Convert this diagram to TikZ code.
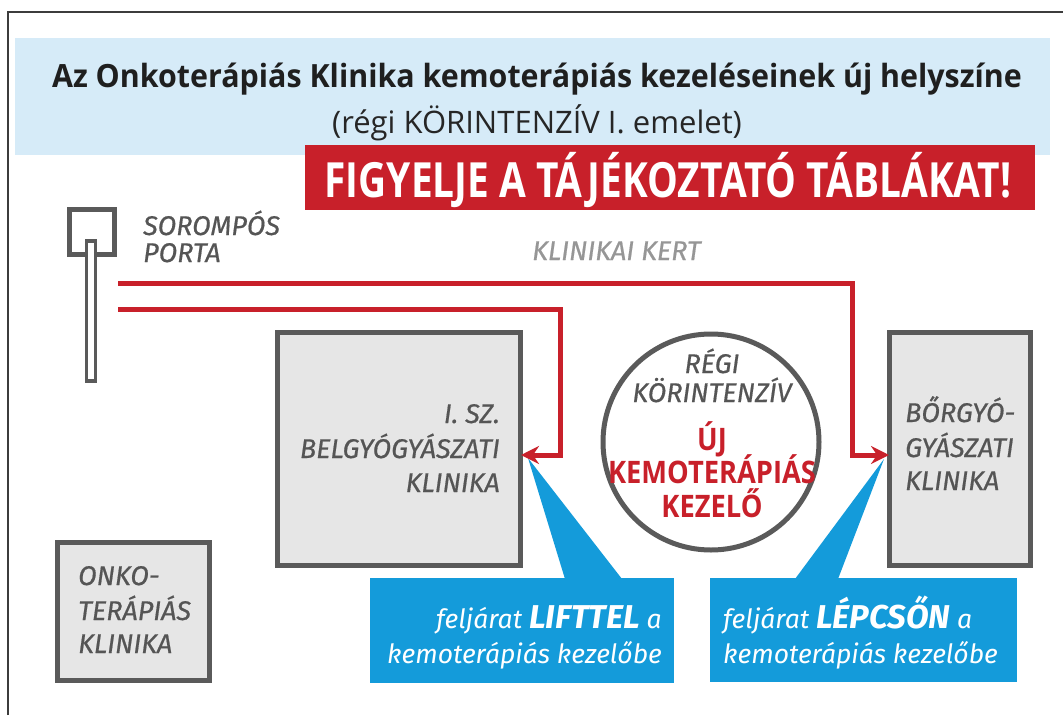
\documentclass[tikz,border=0pt]{standalone}
\usepackage{fontspec}
\usetikzlibrary{arrows.meta}
\setmainfont{Open Sans}
\newfontfamily\cond[FakeStretch=0.80]{Open Sans}
\newfontfamily\titlef[FakeStretch=0.95]{Open Sans}
\newfontfamily\condC[FakeStretch=0.88]{Open Sans}
\newfontfamily\lab[FakeBold=0.6]{Fira Sans}
\newfontfamily\labw{Fira Sans}
\definecolor{bandblue}{RGB}{214,235,248}
\definecolor{redc}{RGB}{200,32,42}
\definecolor{outl}{RGB}{90,90,90}
\definecolor{boxfill}{RGB}{230,230,230}
\definecolor{txtgray}{RGB}{85,85,85}
\definecolor{lightgray}{RGB}{150,150,150}
\definecolor{bluec}{RGB}{20,155,218}
\definecolor{framec}{RGB}{60,60,60}
\tikzset{
  bldg/.style={draw=outl, fill=boxfill, line width=5pt, inner sep=0, rectangle},
  lbl/.style={inner sep=0, text=txtgray, font=\lab\itshape\fontsize{27}{27}\selectfont},
  redtxt/.style={inner sep=0, text=redc, font=\condC\bfseries\fontsize{31}{31}\selectfont},
  bluetxt/.style={inner sep=0, text=white, font=\labw\itshape\fontsize{26.5}{26.5}\selectfont},
  route/.style={draw=redc, line width=5pt},
  routearrow/.style={route, -{Stealth[length=18pt,width=18pt,inset=6pt]}},
  callout/.style={fill=bluec, inner sep=0, rectangle}
}
\newcommand{\bigit}[1]{{\bfseries\fontsize{33}{33}\selectfont #1}}
\begin{document}
\begin{tikzpicture}[x=1pt,y=-1pt]
\useasboundingbox (0,0) rectangle (1063,715);
\fill[white] (0,0) rectangle (1063,715);
\draw[framec, line width=1.5pt] (8,715) -- (8,12) -- (1063,12);

% header band
\node[fill=bandblue, minimum width=1035pt, minimum height=117pt, inner sep=0, anchor=north west] (band) at (15,38) {};
\node[inner sep=0, anchor=base, font=\titlef\bfseries\fontsize{32}{32}\selectfont, text=black!88] (title) at (537,87) {Az Onkoterápiás Klinika kemoterápiás kezeléseinek új helyszíne};
\node[inner sep=0, anchor=base, font=\fontsize{31}{31}\selectfont, text=black!85] (subtitle) at (537,133) {(régi KÖRINTENZÍV I. emelet)};

% red banner
\node[fill=redc, minimum width=730pt, minimum height=65pt, inner sep=0, anchor=north west] (banner) at (305,145) {};
\node[inner sep=0, anchor=base, text=white, font=\cond\bfseries\fontsize{48.5}{48.5}\selectfont] (bannertxt) at (668,197) {FIGYELJE A TÁJÉKOZTATÓ TÁBLÁKAT!};

% gate
\node[draw=outl, line width=5pt, minimum width=45pt, minimum height=45pt, inner sep=0] (gate) at (92,232) {};
\node[draw=outl, fill=white, line width=3.5pt, minimum width=9pt, minimum height=140pt, inner sep=0] (post) at (91,311) {};
\node[lbl, anchor=base west] (sor1) at (143,235) {SOROMPÓS};
\node[lbl, anchor=base west] (sor2) at (143,262) {PORTA};
\node[lbl, text=lightgray, anchor=base west] (kert) at (532,260) {KLINIKAI KERT};

% buildings
\node[bldg, minimum width=243pt, minimum height=233pt] (belg) at (399,449) {};
\node[bldg, minimum width=141pt, minimum height=233pt] (borg) at (960,449) {};
\node[bldg, minimum width=152pt, minimum height=138pt] (onko) at (133.5,611.5) {};
\node[draw=outl, fill=white, line width=5pt, circle, minimum size=216pt, inner sep=0] (kor) at (711,442) {};

\node[lbl, anchor=base east] (b1) at (500,423) {I. SZ.};
\node[lbl, anchor=base east] (b2) at (500,458) {BELGYÓGYÁSZATI};
\node[lbl, anchor=base east] (b3) at (500,492) {KLINIKA};

\node[lbl, anchor=base west] (g1) at (905,422) {BŐRGYÓ-};
\node[lbl, anchor=base west] (g2) at (905,457) {GYÁSZATI};
\node[lbl, anchor=base west] (g3) at (905,490) {KLINIKA};

\node[lbl, anchor=base west] (o1) at (78,585) {ONKO-};
\node[lbl, anchor=base west] (o2) at (78,620) {TERÁPIÁS};
\node[lbl, anchor=base west] (o3) at (78,653) {KLINIKA};

\node[lbl, anchor=base] (k1) at (712,373) {RÉGI};
\node[lbl, anchor=base] (k2) at (712,402) {KÖRINTENZÍV};
\node[redtxt, anchor=base] (k3) at (712,450) {ÚJ};
\node[redtxt, anchor=base] (k4) at (712,483) {KEMOTERÁPIÁS};
\node[redtxt, anchor=base] (k5) at (712,517) {KEZELŐ};

% callouts
\coordinate (lifttip) at (528,458);
\coordinate (steptip) at (884,459);
\node[callout, minimum width=304pt, minimum height=105pt, anchor=north west] (lift) at (370,578) {};
\node[callout, minimum width=307pt, minimum height=104pt, anchor=north west] (stair) at (710,578) {};
\fill[bluec] (565,579) -- (lifttip) -- (622,579) -- cycle;
\fill[bluec] (795,579) -- (steptip) -- (838,579) -- cycle;

\node[bluetxt, anchor=base east] (l1) at (662,628) {feljárat \bigit{LIFTTEL} a};
\node[bluetxt, anchor=base east] (l2) at (662,663) {kemoterápiás kezelőbe};
\node[bluetxt, anchor=base west] (s1) at (723,628) {feljárat \bigit{LÉPCSŐN} a};
\node[bluetxt, anchor=base west] (s2) at (723,663) {kemoterápiás kezelőbe};

% routes
\coordinate (r1s) at (118,283);
\coordinate (r1c1) at (852,283);
\coordinate (r1c2) at (852,455);
\coordinate (r1e) at (889,455);
\coordinate (r2s) at (118,309);
\coordinate (r2c1) at (560,309);
\coordinate (r2c2) at (560,455);
\coordinate (r2e) at (521,455);
\draw[routearrow] (r1s) -- (r1c1) -- (r1c2) -- (r1e);
\draw[routearrow] (r2s) -- (r2c1) -- (r2c2) -- (r2e);
\end{tikzpicture}
\end{document}
